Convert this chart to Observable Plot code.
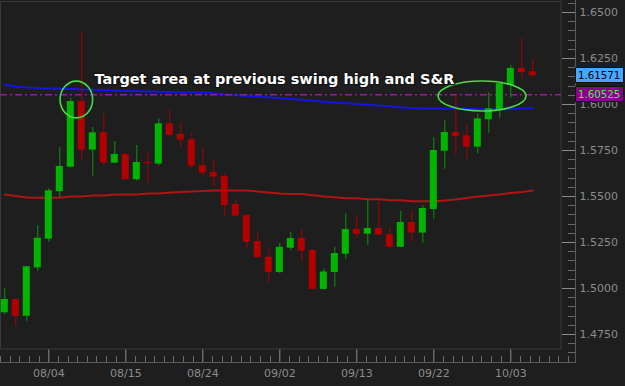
<!DOCTYPE html>
<html><head><meta charset="utf-8">
<script src="https://cdn.jsdelivr.net/npm/d3@7"></script>
<script src="https://cdn.jsdelivr.net/npm/@observablehq/plot@0.6"></script>
<style>
html,body{margin:0;padding:0;background:#1e1e1e;}
#chart{width:625px;height:386px;overflow:hidden;}
</style></head><body><div id="chart"></div>
<script>
// ---- data ----
const open = [1.4868, 1.4940, 1.4849, 1.5112, 1.5268, 1.5526, 1.5659, 1.6016, 1.5752, 1.5846,
  1.5681, 1.5728, 1.5591, 1.5685, 1.5676, 1.5895, 1.5837, 1.5808, 1.5668, 1.5630,
  1.5609, 1.5457, 1.5397, 1.5255, 1.5170, 1.5087, 1.5219, 1.5272, 1.5207, 1.4995,
  1.5087, 1.5186, 1.5321, 1.5295, 1.5326, 1.5293, 1.5224, 1.5359, 1.5301, 1.5429,
  1.5746, 1.5848, 1.5830, 1.5768, 1.5917, 1.5967, 1.6103, 1.6196, 1.6178];
const high = [1.4998, 1.4942, 1.5120, 1.5342, 1.5542, 1.5766, 1.6034, 1.6390, 1.5875, 1.5949,
  1.5799, 1.5730, 1.5777, 1.5739, 1.5922, 1.5971, 1.5901, 1.5846, 1.5766, 1.5696,
  1.5623, 1.5477, 1.5400, 1.5304, 1.5212, 1.5246, 1.5304, 1.5322, 1.5210, 1.5107,
  1.5224, 1.5406, 1.5395, 1.5485, 1.5471, 1.5330, 1.5418, 1.5424, 1.5451, 1.5819,
  1.5913, 1.6049, 1.5890, 1.5946, 1.6065, 1.6121, 1.6212, 1.6357, 1.6243];
const low = [1.4857, 1.4795, 1.4822, 1.5094, 1.5252, 1.5493, 1.5655, 1.5697, 1.5610, 1.5665,
  1.5678, 1.5589, 1.5583, 1.5572, 1.5665, 1.5822, 1.5762, 1.5654, 1.5616, 1.5553,
  1.5388, 1.5390, 1.5221, 1.5165, 1.5033, 1.5080, 1.5203, 1.5148, 1.4993, 1.4989,
  1.5007, 1.5159, 1.5273, 1.5235, 1.5288, 1.5214, 1.5222, 1.5254, 1.5246, 1.5377,
  1.5648, 1.5728, 1.5703, 1.5732, 1.5844, 1.5926, 1.6034, 1.6138, 1.6143];
const close = [1.4940, 1.4849, 1.5118, 1.5273, 1.5531, 1.5663, 1.6016, 1.5752, 1.5846, 1.5683,
  1.5728, 1.5591, 1.5685, 1.5678, 1.5895, 1.5833, 1.5806, 1.5665, 1.5627, 1.5605,
  1.5451, 1.5393, 1.5252, 1.5167, 1.5087, 1.5224, 1.5272, 1.5203, 1.4995, 1.5090,
  1.5190, 1.5321, 1.5295, 1.5326, 1.5290, 1.5224, 1.5359, 1.5301, 1.5435, 1.5750,
  1.5848, 1.5826, 1.5768, 1.5922, 1.5977, 1.6113, 1.6196, 1.6174, 1.61571];
// slow moving average (red)
const maSlow = [1.5511, 1.5503, 1.5495, 1.5493, 1.5493, 1.5493, 1.5500, 1.5500, 1.5505, 1.5505,
  1.5511, 1.5511, 1.5511, 1.5516, 1.5516, 1.5522, 1.5524, 1.5527, 1.5530, 1.5533,
  1.5533, 1.5533, 1.5533, 1.5527, 1.5522, 1.5516, 1.5513, 1.5513, 1.5507, 1.5500,
  1.5496, 1.5491, 1.5491, 1.5485, 1.5485, 1.5480, 1.5480, 1.5474, 1.5474, 1.5474,
  1.5478, 1.5484, 1.5492, 1.5500, 1.5505, 1.5511, 1.5519, 1.5524, 1.5533];
// faster moving average (blue)
const maFast = [1.6109, 1.6098, 1.6092, 1.6089, 1.6087, 1.6085, 1.6084, 1.6082, 1.6080, 1.6078,
  1.6076, 1.6074, 1.6072, 1.6071, 1.6069, 1.6068, 1.6067, 1.6066, 1.6065, 1.6061,
  1.6054, 1.6050, 1.6046, 1.6043, 1.6039, 1.6034, 1.6030, 1.6026, 1.6020, 1.6015,
  1.6011, 1.6007, 1.6003, 1.5998, 1.5995, 1.5991, 1.5985, 1.5981, 1.5978, 1.5978,
  1.5978, 1.5978, 1.5977, 1.5976, 1.5974, 1.5974, 1.5976, 1.5978, 1.5980];
const level = [1.60525];
const xTickIndex = [4, 11, 18, 25, 32, 39, 46];
const xTickLabels = ["08/04", "08/15", "08/24", "09/02", "09/13", "09/22", "10/03"];
const yTicks = [1.475, 1.5, 1.525, 1.55, 1.575, 1.6, 1.625, 1.65];
const annotations = [{i: 8.15, price: 1.6134, text: "Target area at previous swing high and S&R"}];
const ellipses = [
  {i: 6.55, price: 1.60245, ri: 1.48, rp: 0.0100},
  {i: 43.43, price: 1.60435, ri: 4.0, rp: 0.00815}
];
const priceTags = [
  {value: close[close.length - 1], fill: "#4aa6ff", color: "#000000"},
  {value: level[0], fill: "#8b008b", color: "#33ff33"}
];

// ---- derived tables ----
const candles = open.map((o, i) => ({i, open: o, high: high[i], low: low[i], close: close[i], up: close[i] >= o}));
const slowRows = maSlow.map((v, i) => ({i, v}));
const fastRows = maFast.map((v, i) => ({i, v}));

const GREEN = "#00b400", GREEN_WICK = "#089808", RED = "#b00000", RED_WICK = "#a80000";

function chrome(index, scales, values, dims) {
  const {width, height, marginRight, marginBottom, marginTop, marginLeft} = dims;
  const g = d3.create("svg:g");
  const right = width - marginRight, bottom = height - marginBottom;
  const axX = right + 14, axY = bottom + 13;
  g.append("rect").attr("x", marginLeft + 0.5).attr("y", marginTop - 0.5)
    .attr("width", right - marginLeft - 0.5).attr("height", bottom - marginTop + 0.5)
    .attr("fill", "none").attr("stroke", "#3a3a3a");
  g.append("line").attr("x1", marginLeft).attr("x2", axX).attr("y1", axY + 0.5).attr("y2", axY + 0.5).attr("stroke", "#5a5a5a");
  g.append("line").attr("x1", axX + 0.5).attr("x2", axX + 0.5).attr("y1", 0).attr("y2", axY + 1).attr("stroke", "#5a5a5a");
  // minor y ticks every 0.005
  for (let v = 1.465; v <= 1.656; v += 0.005) {
    const vv = Math.round(v * 1000) / 1000;
    if (Math.abs(vv / 0.025 - Math.round(vv / 0.025)) < 1e-6) continue;
    const py = Math.round(scales.y(vv)) + 0.5;
    if (py < 0 || py > axY) continue;
    g.append("line").attr("x1", axX - 7).attr("x2", axX).attr("y1", py).attr("y2", py).attr("stroke", "#6a6a6a");
  }
  // minor x ticks: 8 per major interval
  const step = (xTickIndex[1] - xTickIndex[0]) / 8;
  for (let k = -6; k <= 60; k++) {
    if (k % 8 === 0) continue;
    const v = xTickIndex[0] + k * step;
    const px = Math.round(scales.x(v)) + 0.5;
    if (px < marginLeft || px > axX - 2) continue;
    g.append("line").attr("x1", px).attr("x2", px).attr("y1", axY - 6).attr("y2", axY).attr("stroke", "#6a6a6a");
  }
  return g.node();
}

function ellipseMark(index, scales) {
  const g = d3.create("svg:g");
  for (const e of ellipses) {
    const cx = scales.x(e.i), cy = scales.y(e.price);
    g.append("ellipse").attr("cx", cx).attr("cy", cy)
      .attr("rx", Math.abs(scales.x(e.i + e.ri) - cx)).attr("ry", Math.abs(scales.y(e.price - e.rp) - cy))
      .attr("fill", "none").attr("stroke", "#44dd44").attr("stroke-width", 1.6);
  }
  return g.node();
}

function tagMark(index, scales, values, dims) {
  const g = d3.create("svg:g");
  const x0 = dims.width - dims.marginRight + 14;
  for (const t of priceTags) {
    const py = Math.round(scales.y(t.value));
    g.append("rect").attr("x", x0 + 0.5).attr("y", py - 7.5).attr("width", 48).attr("height", 15)
      .attr("fill", t.fill).attr("stroke", "#111");
    g.append("text").attr("x", x0 + 3).attr("y", py).attr("dy", "0.36em")
      .attr("text-anchor", "start")
      .attr("fill", t.color).attr("font-size", 10.2).attr("font-family", "DejaVu Sans")
      .text(t.value.toFixed(5));
  }
  return g.node();
}

const chart = Plot.plot({
  width: 625, height: 386,
  marginLeft: 0, marginRight: 64, marginTop: 2, marginBottom: 37,
  style: {background: "#1e1e1e", color: "#8c8c8c", fontFamily: "DejaVu Sans", fontSize: "11px", overflow: "visible"},
  x: {type: "linear", domain: [-0.391, 50.609], ticks: xTickIndex,
      tickFormat: v => xTickLabels[xTickIndex.indexOf(v)] ?? "", tickSize: 13, tickPadding: 7, label: null},
  y: {type: "linear", domain: [1.46685, 1.65543], axis: "right", ticks: yTicks,
      tickFormat: d3.format(".4f"), tickSize: 14, tickPadding: 4, label: null},
  marks: [
    chrome,
    Plot.line(slowRows, {x: "i", y: "v", stroke: "#b01414", strokeWidth: 2}),
    Plot.line(fastRows, {x: "i", y: "v", stroke: "#1414e6", strokeWidth: 2}),
    Plot.ruleY(level, {stroke: "#9a1a9a", strokeWidth: 1.5, strokeDasharray: "7,3,2,3"}),
    Plot.ruleX(candles, {x: "i", y1: "low", y2: "high", stroke: d => d.up ? GREEN_WICK : RED_WICK, strokeWidth: 1}),
    Plot.rect(candles, {x1: d => d.i - 0.32, x2: d => d.i + 0.32, y1: "open", y2: "close",
      fill: d => d.up ? GREEN : RED}),
    ellipseMark,
    Plot.text(annotations, {x: "i", y: "price", text: "text", textAnchor: "start", fill: "white",
      fontWeight: "bold", fontSize: 14.5, fontFamily: "DejaVu Sans", stroke: "#151515", strokeWidth: 2.5}),
    tagMark
  ]
});
document.getElementById("chart").appendChild(chart);
</script>
</body></html>
